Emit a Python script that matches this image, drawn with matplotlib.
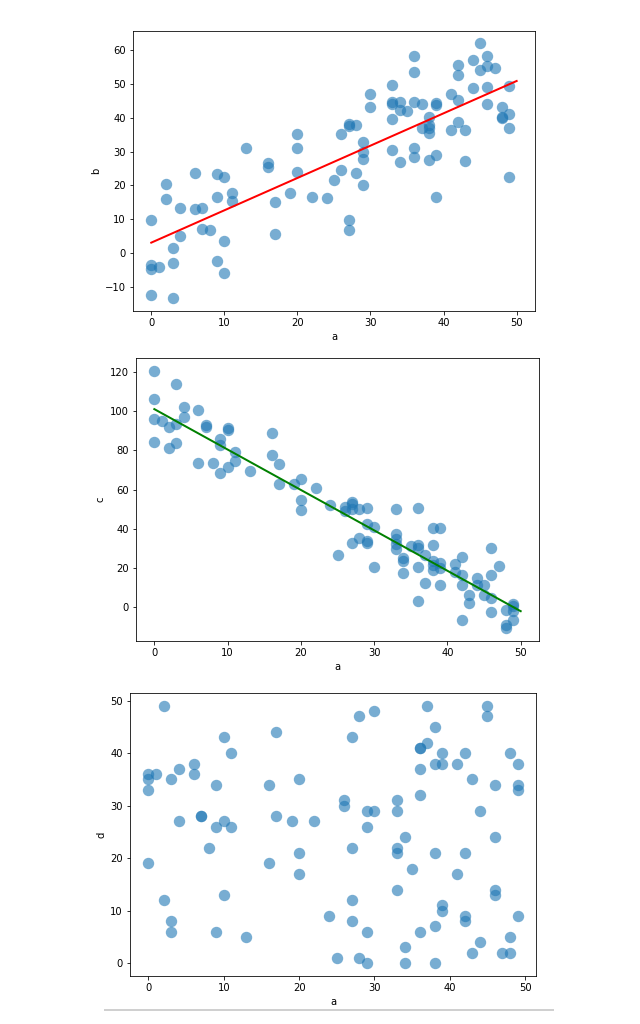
import numpy as np
import matplotlib
matplotlib.use("Agg")
import matplotlib.pyplot as plt
from matplotlib.lines import Line2D

# ---------------------------------------------------------------
# datos (a comun a los tres graficos)
# ---------------------------------------------------------------
a = [0, 0, 0, 0, 1, 2, 2, 3, 3, 3, 4, 4, 6, 6, 7, 7, 8, 9, 9, 9,
     10, 10, 10, 11, 11, 13, 16, 16, 17, 17, 19, 20, 20, 20, 22, 24, 25, 26, 26,
     27, 27, 27, 27, 28, 28, 29, 29, 29, 29, 30, 30,
     33, 33, 33, 33, 33, 34, 34, 34, 35, 36, 36, 36, 36, 36, 37, 37,
     38, 38, 38, 38, 38, 39, 39, 39, 39, 41, 41, 42, 42, 42, 42, 43, 43,
     44, 44, 45, 45, 46, 46, 46, 46, 47, 48, 48, 48, 49, 49, 49, 49]

b = [9.8, -3.5, -4.8, -12.4, -4.2, 20.3, 16.1, 1.4, -2.9, -13.4, 13.4, 5.0,
     23.6, 13.0, 13.2, 7.1, 6.8, 23.3, 16.5, -2.5,
     22.6, 3.4, -5.9, 17.6, 15.4, 31.2, 26.5, 25.5, 15.0, 5.6, 17.7,
     35.1, 31.2, 23.9, 16.6, 16.4, 21.7, 35.1, 24.6,
     38.1, 37.7, 9.7, 6.8, 37.9, 23.6, 32.9, 30.0, 27.9, 20.1, 46.9, 43.1,
     49.7, 44.6, 44.2, 39.6, 30.6, 44.7, 42.3, 27.0, 42.1,
     58.2, 53.7, 44.7, 31.1, 28.5, 44.0, 37.1,
     40.2, 38.0, 37.1, 35.6, 27.4, 44.4, 43.9, 29.0, 16.6, 46.9, 36.4,
     55.7, 52.6, 45.2, 38.8, 36.3, 27.2,
     57.0, 48.9, 62.0, 54.2, 58.2, 55.4, 49.1, 44.2, 54.7, 43.1, 40.2, 39.8,
     49.4, 41.1, 37.1, 22.5]

c = [120.8, 106.3, 96.1, 84.1, 95.2, 91.8, 81.0, 114.0, 93.5, 83.7, 102.1, 96.9,
     100.7, 73.8, 92.9, 92.0, 73.8, 85.8, 82.7, 68.4,
     91.2, 90.5, 71.3, 79.0, 74.7, 69.5, 88.7, 77.8, 73.3, 62.7, 62.7,
     65.3, 54.7, 49.6, 61.0, 52.0, 26.5, 51.0, 49.0,
     53.5, 52.5, 50.2, 32.5, 50.2, 35.4, 50.8, 42.2, 33.6, 32.5, 41.0, 20.3,
     50.2, 37.1, 34.5, 32.0, 29.4, 25.1, 23.4, 17.4, 31.1,
     50.8, 31.9, 30.3, 20.5, 2.9, 26.8, 12.1,
     40.2, 31.6, 23.4, 21.5, 19.1, 40.2, 22.6, 20.0, 11.4, 22.1, 18.0,
     25.3, 16.4, 11.4, -6.5, 6.3, 2.0,
     14.9, 11.4, 11.4, 6.3, 29.9, 16.6, 4.6, -2.7, 21.2, -1.4, -9.1, -10.8,
     1.5, 0.5, -2.2, -6.5]

d = [36, 35, 33, 19, 36, 49, 12, 35, 8, 6, 37, 27, 38, 36, 28, 28, 22, 34, 26, 6,
     43, 27, 13, 40, 26, 5, 34, 19, 44, 28, 27, 35, 21, 17, 27, 9, 1, 31, 30,
     43, 22, 12, 8, 47, 1, 29, 26, 6, 0, 48, 29,
     31, 29, 22, 21, 14, 24, 3, 0, 18, 41, 41, 37, 32, 6, 49, 42,
     45, 38, 21, 7, 0, 40, 38, 11, 10, 38, 17, 40, 21, 9, 8, 35, 2,
     29, 4, 49, 47, 34, 24, 14, 13, 2, 40, 5, 2, 38, 34, 33, 9]

x_recta = [0, 50]

a = np.array(a)
b = np.array(b)
c = np.array(c)
d = np.array(d)

# figura a 72 dpi (como el inline de jupyter)
fig = plt.figure(figsize=(640/72, 1024/72), dpi=72)

posiciones = [[0.2078, 0.6963, 0.628, 0.2737],
              [0.2125, 0.3740, 0.6297, 0.2767],
              [0.2031, 0.0469, 0.6344, 0.2764]]

# Grafico a-b con recta de regresion roja
ax = fig.add_axes(posiciones[0])
ax.scatter(a, b, s=130, color='#1f77b4', alpha=0.6, linewidths=0)
p = np.polyfit(a, b, 1)
ax.plot(x_recta, np.polyval(p, x_recta), color='red', lw=2)
ax.set_xlabel('a')
ax.set_ylabel('b')

# Grafico a-c con recta verde
ax2 = fig.add_axes(posiciones[1])
ax2.scatter(a, c, s=130, color='#1f77b4', alpha=0.6, linewidths=0)
p2 = np.polyfit(a, c, 1)
ax2.plot(x_recta, np.polyval(p2, x_recta), color='green', lw=2)
ax2.set_xlabel('a')
ax2.set_ylabel('c')

# Grafico a-d sin recta
ax3 = fig.add_axes(posiciones[2])
ax3.scatter(a, d, s=130, color='#1f77b4', alpha=0.6, linewidths=0)
ax3.set_xlabel('a')
ax3.set_ylabel('d')

# linea gris del borde inferior
fig.add_artist(Line2D([105/640, 553/640], [1-1010/1024, 1-1010/1024],
                      color='#d0d0d0', lw=2, transform=fig.transFigure))

fig.savefig('out.png', dpi=72)
